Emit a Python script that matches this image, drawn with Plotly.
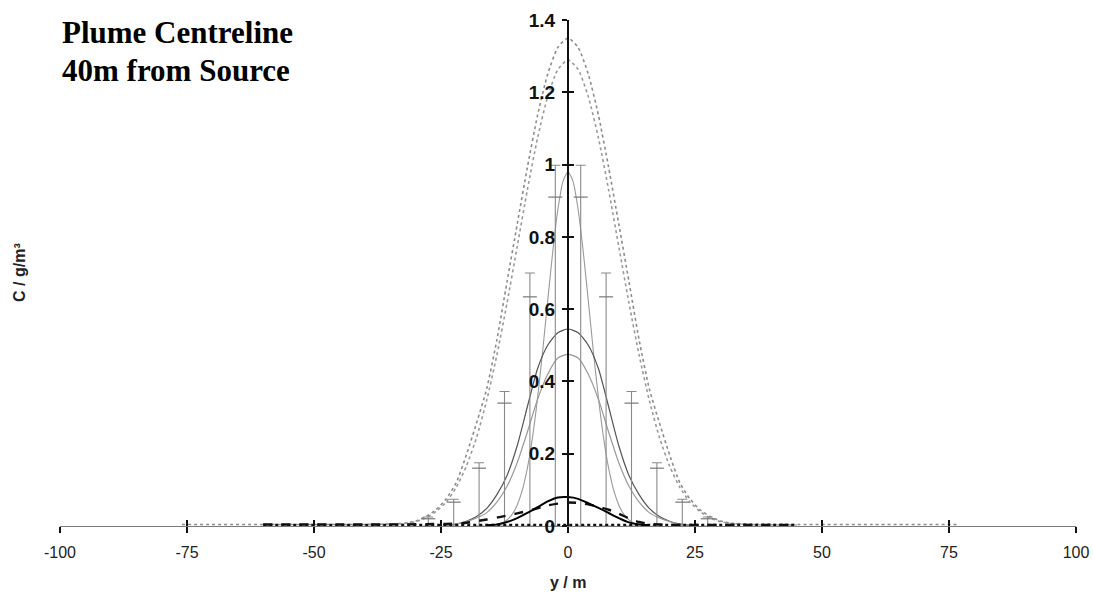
import plotly.graph_objects as go

# ---------------- data ----------------
# outer grey dotted curve
outer_x = [-76, -60, -45, -36, -32, -30, -28, -26, -24, -22, -20, -18, -16, -14, -12, -10, -8, -6, -4, -2,
           0, 2, 4, 6, 8, 10, 12, 14, 16, 18, 20, 22, 24, 26, 28, 30, 32, 36, 45, 60, 77]
outer_y = [0.004, 0.004, 0.004, 0.005, 0.008, 0.014, 0.026, 0.045, 0.075, 0.12, 0.197, 0.285, 0.38, 0.515,
           0.676, 0.835, 0.992, 1.136, 1.25, 1.324,
           1.35, 1.324, 1.25, 1.136, 0.992, 0.835, 0.676, 0.515, 0.38, 0.285, 0.197, 0.12, 0.075, 0.045,
           0.026, 0.014, 0.008, 0.005, 0.004, 0.004, 0.004]

# inner grey dotted curve
inner_x = [-45, -36, -32, -30, -28, -26, -24, -22, -20, -18, -16, -14, -12, -10, -8, -6, -4, -2,
           0, 2, 4, 6, 8, 10, 12, 14, 16, 18, 20, 22, 24, 26, 28, 30, 32, 36, 45]
inner_y = [0.003, 0.004, 0.007, 0.012, 0.022, 0.04, 0.066, 0.107, 0.166, 0.245, 0.348, 0.473, 0.617,
           0.773, 0.93, 1.073, 1.188, 1.263,
           1.29, 1.263, 1.188, 1.073, 0.93, 0.773, 0.617, 0.473, 0.348, 0.245, 0.166, 0.107, 0.066,
           0.04, 0.022, 0.012, 0.007, 0.004, 0.003]

# narrow grey solid curve
narrow_x = [-16, -14, -13, -12, -11, -10, -9, -8, -7, -6, -5, -4, -3, -2, -1,
            0, 1, 2, 3, 4, 5, 6, 7, 8, 9, 10, 11, 12, 13, 14, 16]
narrow_y = [0.001, 0.004, 0.008, 0.017, 0.032, 0.058, 0.099, 0.16, 0.244, 0.353, 0.482, 0.623, 0.759,
            0.875, 0.953,
            0.98, 0.953, 0.875, 0.759, 0.623, 0.482, 0.353, 0.244, 0.16, 0.099, 0.058, 0.032, 0.017,
            0.008, 0.004, 0.001]

# medium dark-grey solid curve and medium grey solid curve
mid_x = [-24, -22, -20, -18, -16, -14, -12, -10, -8, -6, -4, -2,
         0, 2, 4, 6, 8, 10, 12, 14, 16, 18, 20, 22, 24]
dark_y = [0.002, 0.005, 0.013, 0.026, 0.049, 0.087, 0.14, 0.222, 0.33, 0.435, 0.5, 0.535,
          0.545, 0.535, 0.5, 0.435, 0.33, 0.222, 0.14, 0.087, 0.049, 0.026, 0.013, 0.005, 0.002]
grey_y = [0.003, 0.006, 0.012, 0.022, 0.037, 0.066, 0.11, 0.175, 0.26, 0.35, 0.42, 0.465,
          0.475, 0.465, 0.42, 0.35, 0.26, 0.175, 0.11, 0.066, 0.037, 0.022, 0.012, 0.006, 0.003]

# small black solid curve
bsolid_x = [-16, -14, -12, -10, -8, -6, -4, -2, 0, 2, 4, 6, 8, 10, 12, 14, 16]
bsolid_y = [0.002, 0.004, 0.011, 0.022, 0.036, 0.052, 0.068, 0.079, 0.08, 0.075, 0.063, 0.05, 0.036,
            0.022, 0.01, 0.004, 0.002]

# small black dashed curve
bdash_x = [-60, -40, -28, -24, -20, -16, -13, -10, -7, -4, -2, 0, 2, 4, 6, 8, 10, 12, 14, 16, 20, 30, 45]
bdash_y = [0.004, 0.004, 0.005, 0.006, 0.009, 0.018, 0.026, 0.035, 0.045, 0.057, 0.062, 0.065, 0.064,
           0.06, 0.053, 0.045, 0.034, 0.021, 0.011, 0.006, 0.003, 0.003, 0.003]

# black dotted curve lying on the baseline
bdot_x = [-60, -40, -20, 0, 20, 45]
bdot_y = [0.003, 0.003, 0.003, 0.003, 0.003, 0.003]

# measured error bars
bar_x = [-27.5, -22.5, -17.5, -12.5, -7.5, -2.5, 2.5, 7.5, 12.5, 17.5, 22.5, 27.5]
bar_top = [0.025, 0.074, 0.175, 0.372, 0.70, 0.998, 0.998, 0.70, 0.372, 0.175, 0.074, 0.025]
bar_mid = [0.02, 0.066, 0.16, 0.34, 0.634, 0.91, 0.91, 0.634, 0.34, 0.16, 0.066, 0.02]

x_ticks = [-100, -75, -50, -25, 0, 25, 50, 75, 100]
x_ticktext = ["-100", "-75", "-50", "-25", "0", "25", "50", "75", "100"]
y_ticks = [0, 0.2, 0.4, 0.6, 0.8, 1.0, 1.2, 1.4]
y_ticktext = ["0", "0.2", "0.4", "0.6", "0.8", "1", "1.2", "1.4"]

# ---------------- figure ----------------
fig = go.Figure()

GREY = "#8c8c8c"

fig.add_trace(go.Scatter(x=outer_x, y=outer_y, mode="lines",
                         line=dict(color=GREY, width=1.6, dash="dot", shape="spline", smoothing=0.6)))
fig.add_trace(go.Scatter(x=inner_x, y=inner_y, mode="lines",
                         line=dict(color="#9a9a9a", width=1.6, dash="dot", shape="spline", smoothing=0.6)))
fig.add_trace(go.Scatter(x=narrow_x, y=narrow_y, mode="lines",
                         line=dict(color="#9a9a9a", width=1.1, shape="spline", smoothing=0.6)))
fig.add_trace(go.Scatter(x=mid_x, y=dark_y, mode="lines",
                         line=dict(color="#555555", width=1.2, shape="spline", smoothing=0.6)))
fig.add_trace(go.Scatter(x=mid_x, y=grey_y, mode="lines",
                         line=dict(color="#9a9a9a", width=1.2, shape="spline", smoothing=0.6)))

err_plus = [t - m for t, m in zip(bar_top, bar_mid)]
fig.add_trace(go.Scatter(x=bar_x, y=bar_mid, mode="markers",
                         marker=dict(symbol="line-ew", size=10, color=GREY,
                                     line=dict(color="#777777", width=1.2)),
                         error_y=dict(type="data", symmetric=False, array=err_plus, arrayminus=bar_mid,
                                      color="#8a8a8a", thickness=1.1, width=5)))

fig.add_trace(go.Scatter(x=bdot_x, y=bdot_y, mode="lines",
                         line=dict(color="#111111", width=2.2, dash="dot")))
fig.add_trace(go.Scatter(x=bdash_x, y=bdash_y, mode="lines",
                         line=dict(color="#111111", width=2.4, dash="dash", shape="spline", smoothing=0.5)))
fig.add_trace(go.Scatter(x=bsolid_x, y=bsolid_y, mode="lines",
                         line=dict(color="#000000", width=2.0, shape="spline", smoothing=0.6)))

fig.update_layout(
    width=1093, height=597,
    margin=dict(l=60, r=17, t=20, b=71, autoexpand=False),
    paper_bgcolor="white", plot_bgcolor="white",
    showlegend=False,
    xaxis=dict(range=[-100, 100], tickvals=x_ticks, ticktext=x_ticktext, ticks="outside", ticklen=6,
               tickwidth=1.5, tickcolor="#111111", showline=True, linecolor="#7a7a7a", linewidth=1,
               showgrid=False, zeroline=False, ticklabelstandoff=6, automargin=False,
               tickfont=dict(family="Liberation Sans, Arial", size=16, color="#222222")),
    xaxis2=dict(range=[-100, 100], overlaying="x", anchor="y", tickvals=x_ticks, ticks="inside",
                ticklen=6, tickwidth=1.5, tickcolor="#111111", showticklabels=False, automargin=False,
                showline=False, showgrid=False, zeroline=False),
    yaxis=dict(range=[0, 1.4], tickvals=y_ticks, ticktext=y_ticktext, anchor="free", position=0.5,
               ticks="outside", ticklen=5, tickwidth=1.8, tickcolor="#111111", automargin=False,
               showline=True, linecolor="#111111", linewidth=2.2,
               showgrid=False, zeroline=False, ticklabelstandoff=3,
               tickfont=dict(family="Liberation Sans, Arial", size=19, color="#111111", weight="bold")),
    yaxis2=dict(range=[0, 1.4], overlaying="y", anchor="free", position=0.5, tickvals=y_ticks,
                ticks="inside", ticklen=5, tickwidth=1.8, tickcolor="#111111", showticklabels=False,
                showline=False, showgrid=False, zeroline=False, automargin=False),
    annotations=[
        dict(text="<b>Plume Centreline</b>", xref="paper", yref="paper",
             x=0.0, y=(526 - 33) / 506, xanchor="left", yanchor="middle", align="left", showarrow=False,
             font=dict(family="Liberation Serif, Times New Roman", size=31, color="#000000")),
        dict(text="<b>40m from Source</b>", xref="paper", yref="paper",
             x=0.0, y=(526 - 70) / 506, xanchor="left", yanchor="middle", align="left", showarrow=False,
             font=dict(family="Liberation Serif, Times New Roman", size=31, color="#000000")),
        dict(text="<b>C / g/m³</b>", xref="paper", yref="paper", x=-0.0394, y=0.502,
             textangle=-90, showarrow=False, xanchor="center", yanchor="middle",
             font=dict(family="Liberation Sans, Arial", size=16, color="#222222")),
        dict(text="<b>y / m</b>", xref="paper", yref="paper", x=0.5, y=-0.111,
             showarrow=False, xanchor="center", yanchor="middle",
             font=dict(family="Liberation Sans, Arial", size=16, color="#222222")),
    ],
)

# invisible helper traces so the overlay axes (crossing tick marks) are drawn
fig.add_trace(go.Scatter(x=[None], y=[None], xaxis="x2", yaxis="y", mode="lines", hoverinfo="skip"))
fig.add_trace(go.Scatter(x=[None], y=[None], xaxis="x", yaxis="y2", mode="lines", hoverinfo="skip"))

fig.write_html("out.html")
